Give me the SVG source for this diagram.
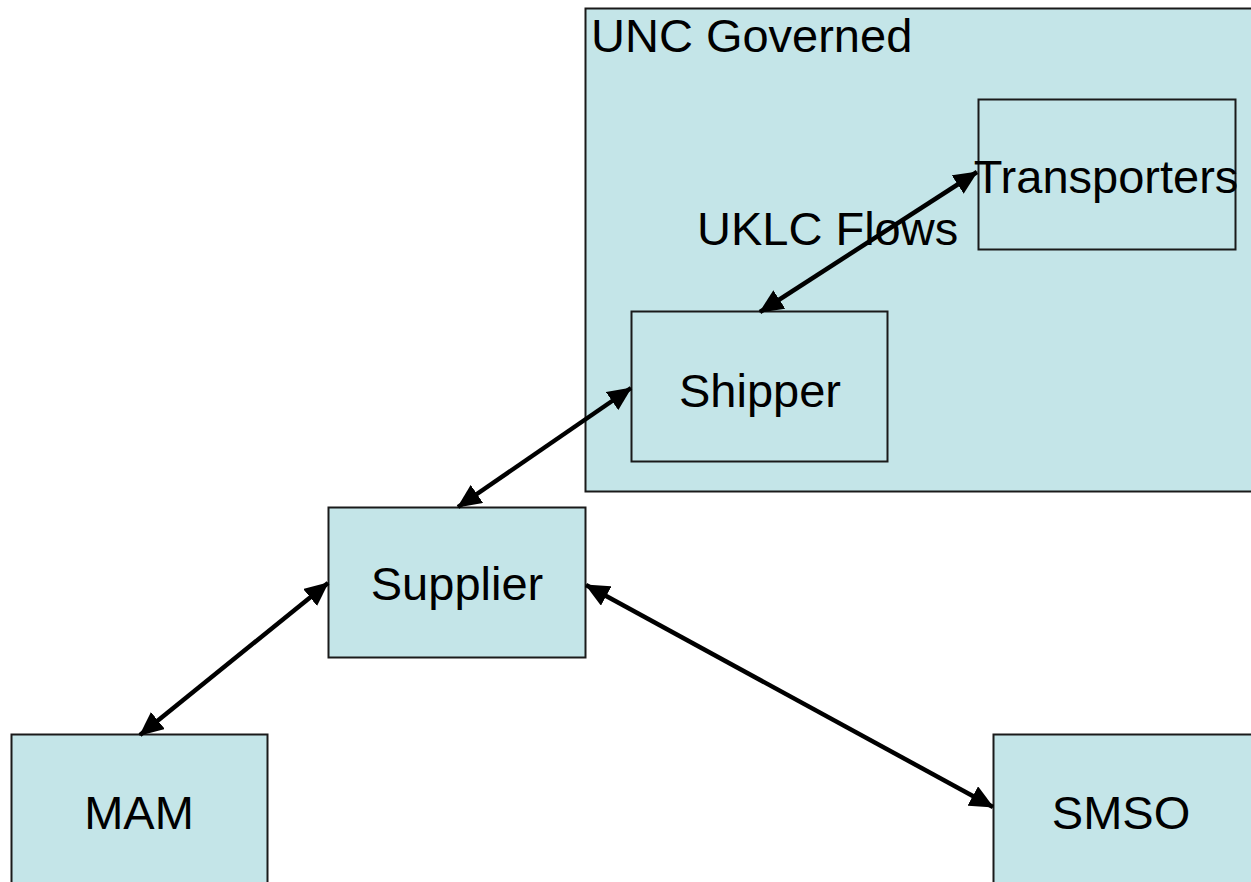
<svg xmlns="http://www.w3.org/2000/svg" width="1251" height="882" viewBox="0 0 1251 882">
<style>
.box{fill:#C4E5E8;stroke:#1a1a1a;stroke-width:2}
.lbl{font-family:"Liberation Sans",Arial,sans-serif;font-size:47px;fill:#000}
.c{text-anchor:middle}
.conn{stroke:#000;stroke-width:4.5;fill:none;marker-start:url(#ah);marker-end:url(#ah)}
</style>
<defs>
<marker id="ah" viewBox="0 0 24 22" refX="23" refY="11" markerWidth="24" markerHeight="22" markerUnits="userSpaceOnUse" orient="auto-start-reverse">
<path d="M0,0 L24,11 L0,22 Z" fill="#000"/>
</marker>
</defs>
<rect width="1251" height="882" fill="#fff"/>
<g id="unc">
<rect class="box" x="585.5" y="8.5" width="670" height="483"/>
<text class="lbl" x="591" y="52">UNC Governed</text>
</g>
<g id="transporters">
<rect class="box" x="978.5" y="99.5" width="257" height="150"/>
<text class="lbl c" x="1106" y="193">Transporters</text>
</g>
<g id="shipper">
<rect class="box" x="631.5" y="311.5" width="256" height="150"/>
<text class="lbl c" x="760" y="407">Shipper</text>
</g>
<g id="supplier">
<rect class="box" x="328.5" y="507.5" width="257" height="150"/>
<text class="lbl c" x="457" y="600">Supplier</text>
</g>
<g id="mam">
<rect class="box" x="11.5" y="734.5" width="256" height="160"/>
<text class="lbl c" x="139" y="829">MAM</text>
</g>
<g id="smso">
<rect class="box" x="993.5" y="734.5" width="270" height="160"/>
<text class="lbl c" x="1121" y="829">SMSO</text>
</g>
<text class="lbl" x="697" y="245">UKLC Flows</text>
<g id="connectors">
<line class="conn" x1="760" y1="312" x2="977" y2="172"/>
<line class="conn" x1="458" y1="507" x2="631" y2="388"/>
<line class="conn" x1="140" y1="735" x2="328" y2="583"/>
<line class="conn" x1="586" y1="585" x2="993" y2="807"/>
</g>
</svg>
